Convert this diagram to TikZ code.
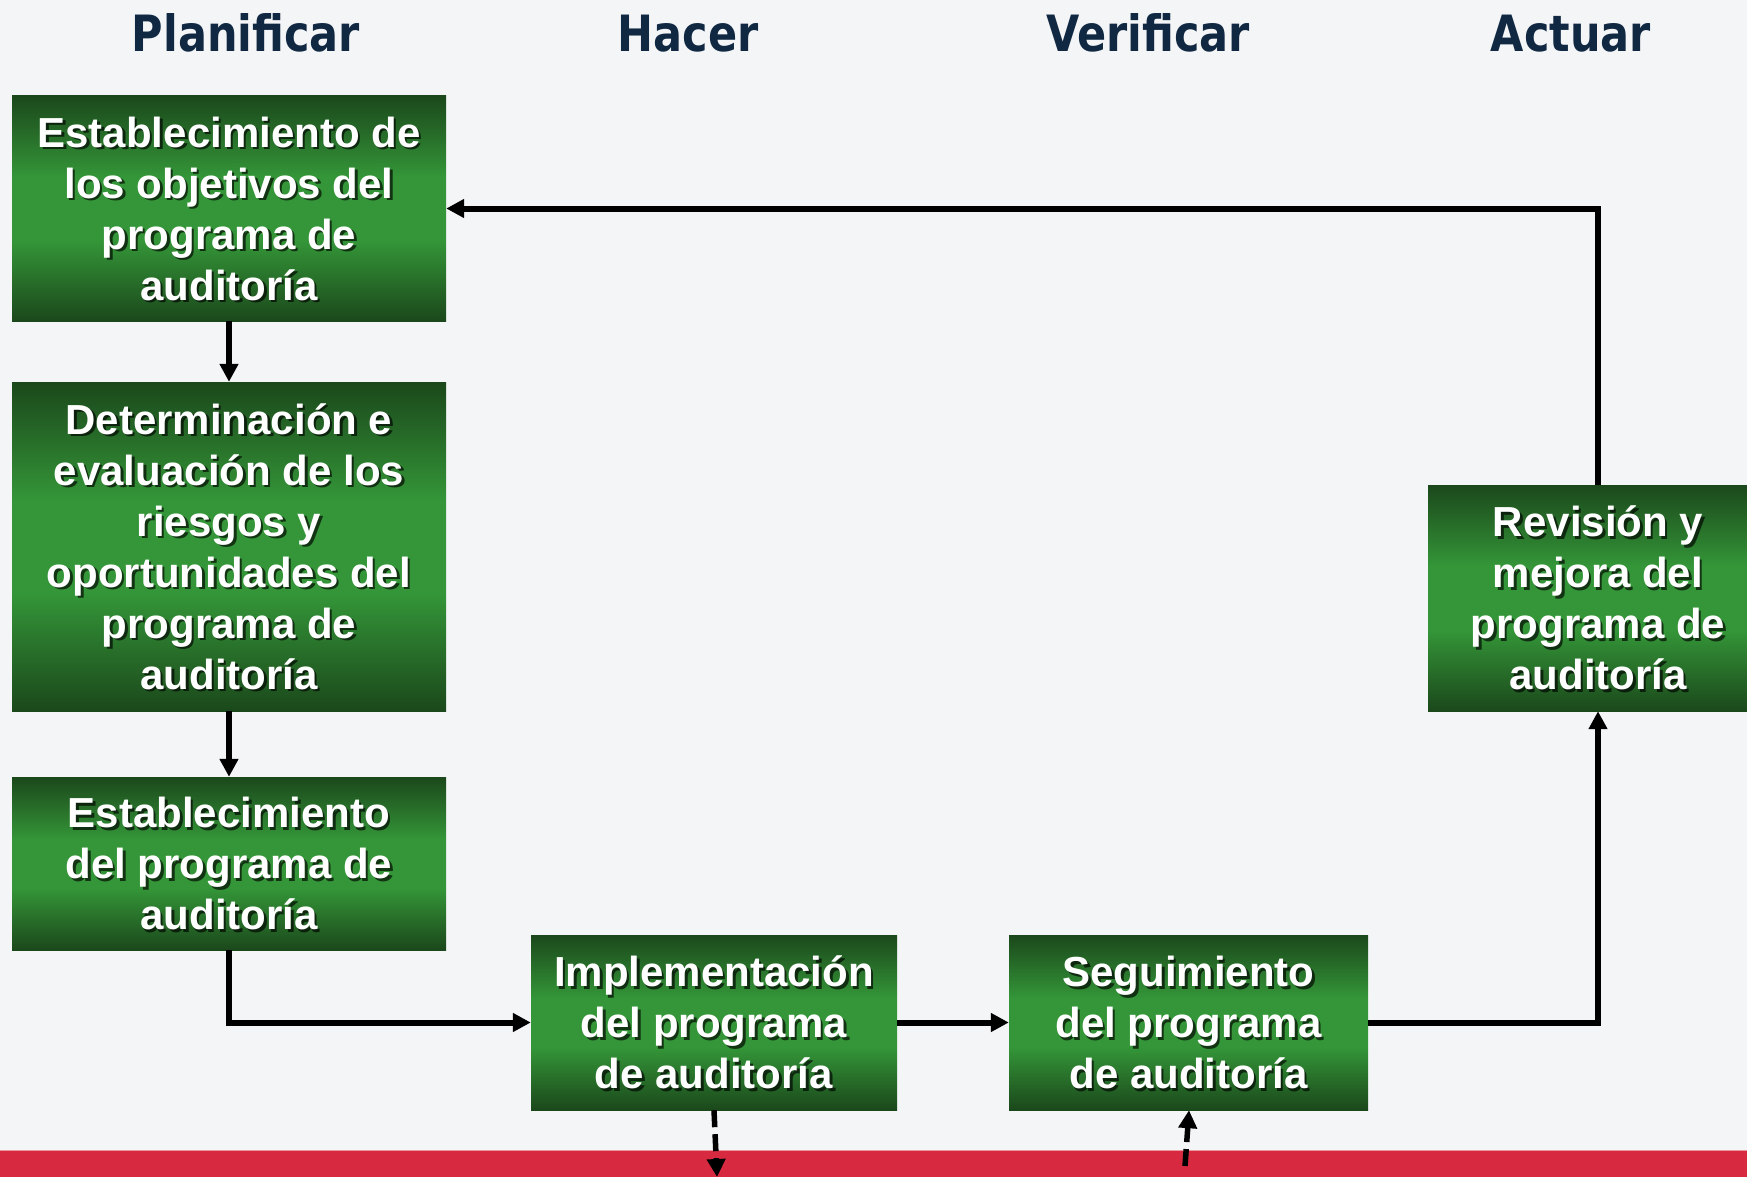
\documentclass[tikz,border=0pt]{standalone}
\usepackage{fontspec}
\setmainfont{Liberation Sans}
\newfontfamily\headfont[FakeStretch=0.86]{DejaVu Sans}
\usetikzlibrary{arrows.meta}
\definecolor{bgc}{RGB}{244,245,247}
\definecolor{navy}{RGB}{16,40,66}
\definecolor{gdark}{RGB}{27,72,27}
\definecolor{gdk2}{RGB}{38,106,40}
\definecolor{gmid}{RGB}{52,150,56}
\definecolor{redbar}{RGB}{215,42,64}
\definecolor{redtop}{RGB}{236,150,160}
\pgfdeclareverticalshading{greenbar}{100bp}{color(0bp)=(gdark); color(25bp)=(gdark); color(33bp)=(gdk2); color(43bp)=(gmid); color(57bp)=(gmid); color(67bp)=(gdk2); color(75bp)=(gdark); color(100bp)=(gdark)}
\newcommand\gnode[6]{%
  \node[gbox, minimum width=#4, minimum height=#5,
    path picture={\node[shadowtext] at ([shift={(2.5,2.5)}]path picture bounding box.center) {#6};}]
    (#1) at (#2,#3) {#6};}
\begin{document}
\begin{tikzpicture}[x=1pt,y=-1pt,
  gbox/.style={rectangle, inner sep=0pt, shading=greenbar, text=white, align=center,
    font=\bfseries\fontsize{42}{51}\selectfont},
  shadowtext/.style={inner sep=0pt, align=center, text=black, text opacity=0.65,
    font=\bfseries\fontsize{42}{51}\selectfont},
  head/.style={anchor=base, text=navy, font=\headfont\bfseries\fontsize{50}{60}\selectfont},
  conn/.style={line width=6pt, line join=miter, -{Triangle[length=18pt,width=18pt]}},
  dconn/.style={conn, line width=5.5pt, dash pattern=on 17pt off 7pt}]
\fill[bgc] (0,0) rectangle (1747,1177);
\useasboundingbox (0,0) rectangle (1747,1177);
% headers
\node[head] (h1) at (246,52) {Planificar};
\node[head] (h2) at (688,52) {Hacer};
\node[head] (h3) at (1148,52) {Verificar};
\node[head] (h4) at (1571,52) {Actuar};
% red bar
\fill[redbar] (0,1150) rectangle (1747,1177);
\draw[redtop, line width=1.5pt] (0,1150.5) -- (1747,1150.5);
% boxes
\gnode{A}{229}{208.5}{434pt}{225pt}{Establecimiento de\\los objetivos del\\programa de\\auditoría}
\gnode{B}{229}{546.5}{434pt}{329pt}{Determinación e\\evaluación de los\\riesgos y\\oportunidades del\\programa de\\auditoría}
\gnode{C}{229}{863.5}{434pt}{173pt}{Establecimiento\\del programa de\\auditoría}
\gnode{D}{714}{1022.5}{366pt}{175pt}{Implementación\\del programa\\de auditoría}
\gnode{E}{1188.5}{1022.5}{359pt}{175pt}{Seguimiento\\del programa\\de auditoría}
\gnode{F}{1598}{598}{340pt}{226pt}{Revisión y\\mejora del\\programa de\\auditoría}
% connectors
\draw[conn] (A.south) -- (B.north);
\draw[conn] (B.south) -- (C.north);
\draw[conn] (C.south) |- (D.west);
\draw[conn] (D.east) -- (E.west);
\draw[conn] (E.east) -| (F.south);
\draw[conn] (F.north) |- (A.east);
% dashed connectors to/from the bar
\coordinate (dEnd) at (717,1177);
\coordinate (eStart) at (1185,1166);
\draw[dconn] (D.south) -- (dEnd);
\draw[dconn] (eStart) -- ([xshift=0.5pt]E.south);
\end{tikzpicture}
\end{document}
